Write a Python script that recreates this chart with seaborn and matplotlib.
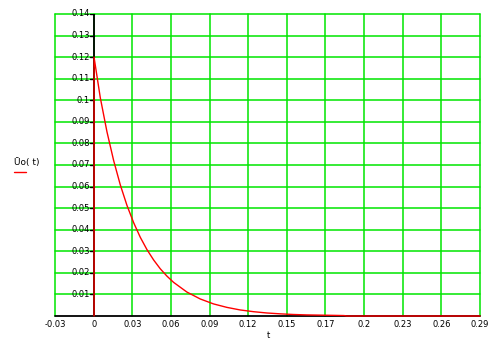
import matplotlib
matplotlib.use("Agg")
import matplotlib.pyplot as plt
import seaborn as sns
import pandas as pd
from matplotlib.lines import Line2D

# data
t_vals = [0.0003, 0.0003, 0.005, 0.01, 0.015, 0.02, 0.025, 0.03, 0.035, 0.04, 0.045,
          0.05, 0.055, 0.06, 0.07, 0.08, 0.09, 0.10, 0.11, 0.12, 0.13, 0.14,
          0.15, 0.16, 0.17, 0.18, 0.188, 0.19, 0.29]
u_vals = [0.0, 0.12, 0.1012, 0.0854, 0.0721, 0.0608, 0.0513, 0.0433, 0.0365, 0.0308, 0.0260,
          0.0219, 0.0185, 0.0156, 0.0111, 0.0079, 0.0056, 0.0040, 0.0028, 0.0020, 0.0014, 0.0010,
          0.0007, 0.0005, 0.0004, 0.0003, 0.0002, 0.0, 0.0]
x_ticks = [-0.029, 0.0, 0.029, 0.058, 0.087, 0.116, 0.145, 0.174, 0.203, 0.232, 0.261, 0.29]
x_labels = ["-0.03", "0", "0.03", "0.06", "0.09", "0.12", "0.15", "0.17", "0.2", "0.23", "0.26", "0.29"]
y_ticks = [0.01, 0.02, 0.03, 0.04, 0.05, 0.06, 0.07, 0.08, 0.09, 0.10, 0.11, 0.12, 0.13, 0.14]
y_labels = ["0.01", "0.02", "0.03", "0.04", "0.05", "0.06", "0.07", "0.08", "0.09", "0.1",
            "0.11", "0.12", "0.13", "0.14"]

sns.set_style("white")
plt.rcParams['font.family'] = ['DejaVu Sans']

GREEN = '#00e600'
fig = plt.figure(figsize=(4.99, 3.42), dpi=100)
ax = fig.add_axes([55/499, 1-316/342, 425/499, 302/342])

df = pd.DataFrame({"t": t_vals, "u": u_vals})

ax.set_xlim(-0.029, 0.29)
ax.set_ylim(0, 0.14)

for xv in x_ticks:
    ax.axvline(xv, color=GREEN, lw=1.1, zorder=1, clip_on=False)
for yv in y_ticks:
    ax.axhline(yv, color=GREEN, lw=1.1, zorder=1, clip_on=False)

# axes lines
ax.axhline(0, color='black', lw=1.3, zorder=2, clip_on=False)
ax.axvline(0, color='black', lw=1.3, zorder=2)

sns.lineplot(data=df, x="t", y="u", ax=ax, color='red', lw=1.0, sort=False,
             estimator=None, zorder=3)
ax.lines[-1].set_clip_on(False)

for s in ['top', 'right', 'left', 'bottom']:
    ax.spines[s].set_visible(False)

ax.set_xticks(x_ticks)
ax.set_xticklabels(x_labels, fontsize=6, color='black')
ax.tick_params(axis='x', length=0, pad=3)

ax.set_yticks([])
for yv, lab in zip(y_ticks, y_labels):
    ax.plot([-0.0025, 0], [yv, yv], color='black', lw=1.0, zorder=2)
    ax.text(-0.003, yv, lab, ha='right', va='center', fontsize=6, color='black', zorder=4)

ax.set_xlabel("")
ax.set_ylabel("")
fig.text(268/499, 1-335/342, "t", fontsize=6, ha='center', va='center', color='black')
fig.text(14/499, 1-163/342, "Ūo( t)", fontsize=6.5, ha='left', va='center', color='black')
fig.add_artist(Line2D([14/499, 26/499], [1-172/342, 1-172/342], color='red', lw=1.0))

fig.savefig("out.png", dpi=100)
